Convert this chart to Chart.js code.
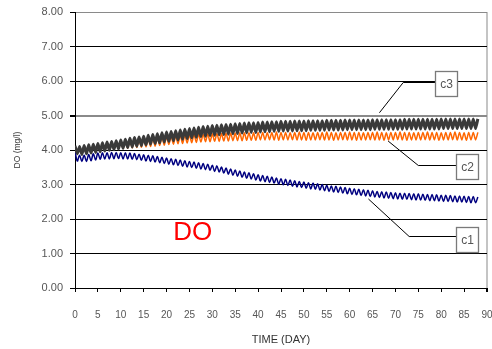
<!DOCTYPE html>
<html>
<head>
<meta charset="utf-8">
<title>DO</title>
<script src="https://cdn.jsdelivr.net/npm/chart.js@4.4.1/dist/chart.umd.min.js"></script>
<style>
  html, body { margin: 0; padding: 0; background: #fff; }
  #wrap { width: 492px; height: 349px; }
</style>
</head>
<body>
<div id="wrap"><canvas id="chart" width="492" height="349"></canvas></div>
<script>
// Axis ticks
const xTickValues = [0, 5, 10, 15, 20, 25, 30, 35, 40, 45, 50, 55, 60, 65, 70, 75, 80, 85, 90];
const yTickValues = [0, 1, 2, 3, 4, 5, 6, 7, 8];

// Model output is saved twice a day: the daily high at whole days,
// the daily low half a day later.
const HALF_DAY = 0.5;

// c1: daily highs (days 0..88) and lows (days 0.5..87.5), mg/l
const c1Peak = [
  3.98,3.85,3.85,3.87,3.89,3.91,3.92,3.92,3.93,3.93,
  3.92,3.92,3.91,3.90,3.88,3.86,3.85,3.83,3.81,3.79,
  3.77,3.75,3.73,3.71,3.69,3.67,3.65,3.63,3.61,3.59,
  3.56,3.54,3.51,3.48,3.45,3.42,3.39,3.36,3.34,3.31,
  3.28,3.26,3.24,3.22,3.19,3.17,3.15,3.13,3.11,3.09,
  3.07,3.05,3.04,3.02,3.00,2.98,2.96,2.95,2.93,2.91,
  2.89,2.88,2.86,2.85,2.83,2.82,2.80,2.79,2.78,2.77,
  2.76,2.75,2.75,2.74,2.73,2.73,2.72,2.71,2.71,2.70,
  2.69,2.69,2.68,2.67,2.67,2.66,2.65,2.65,2.64
];
const c1Trough = [
  3.68,3.67,3.67,3.69,3.71,3.73,3.74,3.74,3.75,3.75,
  3.74,3.74,3.73,3.72,3.70,3.68,3.67,3.65,3.63,3.61,
  3.59,3.57,3.55,3.53,3.51,3.49,3.47,3.45,3.43,3.41,
  3.38,3.36,3.33,3.30,3.27,3.24,3.21,3.18,3.16,3.13,
  3.10,3.08,3.06,3.04,3.01,2.99,2.97,2.95,2.93,2.91,
  2.89,2.87,2.86,2.84,2.82,2.80,2.78,2.77,2.75,2.73,
  2.71,2.70,2.68,2.67,2.65,2.64,2.62,2.61,2.60,2.59,
  2.58,2.57,2.57,2.56,2.55,2.55,2.54,2.53,2.53,2.52,
  2.51,2.51,2.50,2.49,2.49,2.48,2.47,2.47
];

// c2
const c2Peak = [
  4.10,4.08,4.10,4.12,4.14,4.16,4.18,4.20,4.21,4.23,
  4.25,4.26,4.28,4.29,4.31,4.32,4.34,4.35,4.36,4.38,
  4.39,4.40,4.41,4.42,4.43,4.44,4.45,4.46,4.46,4.47,
  4.47,4.48,4.48,4.49,4.49,4.49,4.50,4.50,4.50,4.50,
  4.51,4.51,4.50,4.51,4.52,4.51,4.51,4.50,4.51,4.52,
  4.51,4.51,4.50,4.51,4.51,4.52,4.51,4.50,4.51,4.51,
  4.52,4.51,4.51,4.50,4.51,4.51,4.52,4.51,4.50,4.51,
  4.51,4.52,4.51,4.51,4.50,4.51,4.51,4.52,4.51,4.51,
  4.50,4.51,4.51,4.52,4.51,4.50,4.51,4.51,4.51
];
const c2Trough = [
  3.89,3.88,3.90,3.92,3.94,3.96,3.98,4.00,4.02,4.03,
  4.04,4.05,4.06,4.07,4.08,4.09,4.10,4.11,4.13,4.14,
  4.16,4.17,4.18,4.19,4.20,4.21,4.22,4.23,4.24,4.24,
  4.25,4.25,4.26,4.26,4.27,4.27,4.27,4.28,4.28,4.28,
  4.29,4.29,4.30,4.29,4.28,4.29,4.29,4.30,4.29,4.29,
  4.28,4.29,4.29,4.30,4.29,4.29,4.28,4.29,4.30,4.29,
  4.29,4.28,4.29,4.29,4.30,4.29,4.29,4.28,4.29,4.29,
  4.30,4.29,4.28,4.29,4.29,4.29,4.30,4.29,4.29,4.28,
  4.29,4.29,4.30,4.29,4.29,4.28,4.29,4.29
];

// c3
const c3Peak = [
  4.12,4.10,4.13,4.15,4.17,4.19,4.21,4.23,4.25,4.27,
  4.29,4.31,4.34,4.36,4.38,4.40,4.43,4.45,4.47,4.50,
  4.52,4.54,4.56,4.58,4.60,4.62,4.64,4.66,4.68,4.69,
  4.71,4.72,4.73,4.74,4.75,4.76,4.77,4.78,4.79,4.79,
  4.80,4.81,4.81,4.82,4.82,4.83,4.83,4.83,4.84,4.84,
  4.84,4.85,4.85,4.85,4.85,4.86,4.86,4.86,4.86,4.87,
  4.87,4.87,4.87,4.87,4.87,4.88,4.88,4.88,4.88,4.88,
  4.88,4.88,4.89,4.89,4.89,4.89,4.89,4.89,4.89,4.89,
  4.90,4.90,4.90,4.90,4.90,4.90,4.90,4.90,4.90
];
const c3Trough = [
  3.89,3.87,3.89,3.91,3.93,3.95,3.97,3.99,4.01,4.03,
  4.05,4.07,4.09,4.11,4.13,4.15,4.17,4.19,4.21,4.23,
  4.25,4.27,4.29,4.31,4.33,4.35,4.37,4.39,4.40,4.42,
  4.43,4.44,4.45,4.46,4.47,4.48,4.49,4.50,4.51,4.51,
  4.52,4.53,4.53,4.54,4.54,4.55,4.55,4.55,4.56,4.56,
  4.56,4.57,4.57,4.57,4.57,4.58,4.58,4.58,4.58,4.59,
  4.59,4.59,4.59,4.59,4.59,4.60,4.60,4.60,4.60,4.60,
  4.60,4.60,4.61,4.61,4.61,4.61,4.61,4.61,4.61,4.61,
  4.62,4.62,4.62,4.62,4.62,4.62,4.62,4.62
];

// Callout labels: tip on the curve, elbow of the leader, label box centre (data units)
const callouts = [
  { text: 'c3', tip: [66.5, 5.08], elbow: [71.7, 5.98], box: [81.1, 5.93] },
  { text: 'c2', tip: [68.4, 4.26], elbow: [75.0, 3.57], box: [85.7, 3.51] },
  { text: 'c1', tip: [64.1, 2.58], elbow: [73.0, 1.50], box: [85.6, 1.42] }
];
const BOX_W = 22, BOX_H = 25;
const FONT = "'Liberation Sans', Arial, Helvetica, sans-serif";

// Interleave highs and lows into one time series
function series(peaks, troughs) {
  const pts = [];
  for (let i = 0; i < peaks.length; i++) {
    pts.push({ x: i, y: peaks[i] });
    if (i < troughs.length) pts.push({ x: i + HALF_DAY, y: troughs[i] });
  }
  return pts;
}

const calloutPlugin = {
  id: 'callouts',
  afterDatasetsDraw(chart) {
    const { ctx, scales: { x, y } } = chart;
    ctx.save();
    callouts.forEach(c => {
      const tx = x.getPixelForValue(c.tip[0]), ty = y.getPixelForValue(c.tip[1]);
      const ex = x.getPixelForValue(c.elbow[0]), ey = Math.round(y.getPixelForValue(c.elbow[1])) + 0.5;
      const bx = x.getPixelForValue(c.box[0]), by = y.getPixelForValue(c.box[1]);
      const left = Math.round(bx - BOX_W / 2) + 0.5, top = Math.round(by - BOX_H / 2) + 0.5;
      ctx.strokeStyle = '#000';
      ctx.lineWidth = 1;
      ctx.beginPath();
      ctx.moveTo(tx, ty);
      ctx.lineTo(ex, ey);
      ctx.lineTo(left, ey);
      ctx.stroke();
      ctx.fillStyle = '#fff';
      ctx.fillRect(left, top, BOX_W, BOX_H);
      ctx.strokeStyle = '#7a7a7a';
      ctx.lineWidth = 1.3;
      ctx.strokeRect(left, top, BOX_W, BOX_H);
      ctx.fillStyle = '#555';
      ctx.font = '12px ' + FONT;
      ctx.textAlign = 'center';
      ctx.textBaseline = 'middle';
      ctx.fillText(c.text, left + BOX_W / 2, top + BOX_H / 2 + 1);
    });
    ctx.fillStyle = '#ff0000';
    ctx.font = '26px ' + FONT;
    ctx.textAlign = 'center';
    ctx.textBaseline = 'middle';
    ctx.fillText('DO', x.getPixelForValue(25.7), y.getPixelForValue(1.6));
    ctx.restore();
  }
};

Chart.defaults.font.family = FONT;

new Chart(document.getElementById('chart'), {
  type: 'line',
  data: {
    datasets: [
      { label: 'c3', data: series(c3Peak, c3Trough), borderColor: '#3a3a3a', borderWidth: 3, tension: 0.15 },
      { label: 'c2', data: series(c2Peak, c2Trough), borderColor: '#ff6600', borderWidth: 1.5, tension: 0.25 },
      { label: 'c1', data: series(c1Peak, c1Trough), borderColor: '#000080', borderWidth: 1.5, tension: 0.35 }
    ]
  },
  options: {
    responsive: false,
    devicePixelRatio: 1,
    animation: false,
    events: [],
    elements: { point: { radius: 0 } },
    layout: { padding: { top: 12, right: 5, left: 0, bottom: 0 } },
    plugins: { legend: { display: false }, tooltip: { enabled: false } },
    scales: {
      x: {
        type: 'linear',
        min: 0, max: 90,
        afterBuildTicks: s => { s.ticks = xTickValues.map(v => ({ value: v })); },
        afterFit: s => { s.height = 61; s.paddingLeft = 0; s.paddingRight = 0; },
        ticks: { color: '#555', font: { size: 10 }, padding: 17, maxRotation: 0, autoSkip: false },
        grid: {
          drawOnChartArea: true,
          tickLength: 4,
          tickColor: '#000',
          color: c => (c.tick && c.tick.value === 90) ? '#c4c4c4' : 'rgba(0,0,0,0)',
          lineWidth: c => (c.tick && c.tick.value === 90) ? 2 : 1
        },
        border: { color: '#000', width: 1 },
        title: { display: true, text: 'TIME (DAY)', color: '#333', font: { size: 11 }, padding: { top: 0, bottom: 2 } }
      },
      y: {
        min: 0, max: 8,
        afterBuildTicks: s => { s.ticks = yTickValues.map(v => ({ value: v })); },
        afterFit: s => { s.width = 75; s.paddingTop = 0; s.paddingBottom = 0; },
        ticks: { color: '#555', font: { size: 11 }, padding: 7, callback: v => Number(v).toFixed(2) },
        grid: {
          tickLength: 5,
          tickColor: '#000',
          color: c => {
            const v = c.tick && c.tick.value;
            return (v === 8 || v === 5) ? '#8a8a8a' : '#000';
          },
          lineWidth: c => (c.tick && c.tick.value === 5) ? 2 : 1
        },
        border: { color: '#000', width: 1 },
        title: { display: true, text: 'DO (mg/l)', color: '#333', font: { size: 8.5 }, padding: { top: 13, bottom: 0 } }
      }
    }
  },
  plugins: [calloutPlugin]
});
</script>
</body>
</html>
